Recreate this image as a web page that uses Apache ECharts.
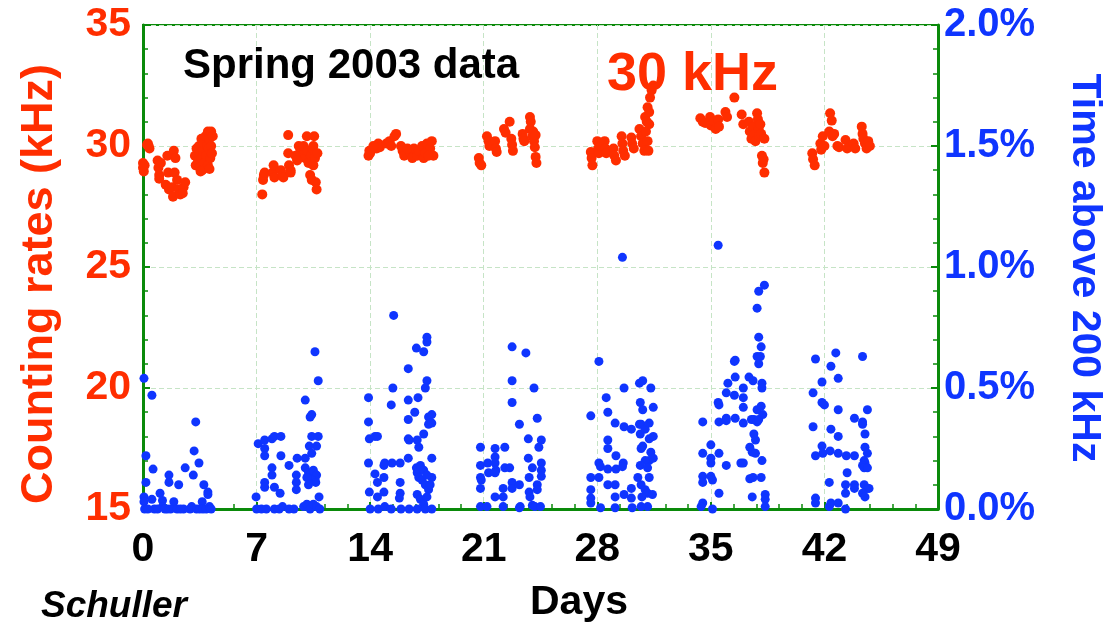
<!DOCTYPE html>
<html>
<head>
<meta charset="utf-8">
<script src="https://cdn.jsdelivr.net/npm/echarts@6/dist/echarts.min.js"></script>
<style>
html,body{margin:0;padding:0;background:#fff;}
#chart{width:1104px;height:627px;}
</style>
</head>
<body>
<div id="chart"></div>
<script>
// ---- Data: [day, counting rate kHz] ----
var rateWeek1 = [[0,29.3],[0,29.1],[0.05,28.95],[0.1,29.2],[0.3,30.1],[0.35,30.0],[0.4,29.9],[0.25,30.05],
 [0.9,29.4],[0.95,29.1],[1.0,28.8],[1.0,28.65],[1.1,29.3],[1.5,29.6],[1.55,28.9],[1.9,29.8],[2.0,29.5],[1.95,28.9],[2.1,28.6],
 [1.4,28.4],[1.6,28.2],[1.8,28.3],[1.85,27.9],[2.2,28.2],[2.3,28.0],[2.5,28.3],[2.6,28.5],[2.45,28.05],
 [3.2,29.6],[3.25,29.2],[3.3,29.9],[3.4,29.4],[3.45,30.0],[3.5,29.1],[3.5,29.7],[3.6,30.3],[3.6,29.5],[3.65,29.0],[3.7,29.8],
 [3.75,30.1],[3.8,29.3],[3.85,30.4],[3.9,29.6],[3.95,30.0],[4.0,30.6],[4.0,29.2],[4.05,29.9],[4.1,30.3],[4.15,29.5],[4.2,30.6],
 [4.2,30.0],[4.25,29.7],[4.3,30.4],[3.55,28.95],[4.1,29.05]];
var rateWeek2 = [[7.35,28.0],[7.4,28.6],[7.45,28.8],[7.5,28.9],[8.0,28.9],[8.05,29.2],[8.1,28.7],[8.5,29.0],[8.6,28.8],[8.65,28.7],
 [9.0,29.2],[9.1,29.0],[9.1,28.9],[8.95,29.7],[8.95,30.45],[9.6,30.0],[9.7,29.8],[9.75,29.6],[9.9,30.0],[10.0,29.5],[10.1,30.4],
 [10.15,29.8],[10.2,29.3],[10.3,28.8],[10.35,29.6],[10.4,28.6],[10.45,29.9],[10.5,29.2],[10.55,30.4],[10.6,29.5],[10.65,28.5],
 [10.7,28.2],[10.5,30.0],[10.75,29.7],[9.4,29.6],[9.5,29.4]];
var rateWeek3 = [[13.9,29.6],[13.95,29.8],[14.0,29.7],[14.4,29.9],[14.5,30.1],[14.6,29.95],[15.0,30.1],[15.2,30.2],[15.5,30.4],
 [15.6,30.5],[15.3,30.0],[15.9,30.0],[16.0,29.8],[16.1,29.6],[16.5,29.7],[16.6,29.5],[16.7,29.9],[16.9,29.6],[17.0,29.8],[17.2,30.0],
 [17.3,29.5],[17.4,29.7],[17.5,30.1],[17.7,29.9],[17.8,30.2],[17.9,29.6],[16.3,29.9],[14.2,30.0],[17.6,29.6]];
var rateWeek4 = [[20.7,29.5],[20.75,29.3],[20.85,29.2],[21.2,30.4],[21.3,30.2],[21.35,30.0],[21.7,30.2],[21.75,29.9],[21.8,29.75],
 [22.25,30.7],[22.35,30.55],[22.6,31.0],[22.7,30.3],[22.75,30.05],[22.8,29.8],[23.4,30.5],[23.45,30.3],[23.5,30.2],[23.85,31.2],
 [23.9,31.0],[23.85,30.7],[24.0,30.4],[24.05,30.6],[24.1,30.2],[24.15,29.95],[24.2,29.55],[24.25,29.3],[24.2,30.45]];
var rateWeek5 = [[27.6,29.75],[27.65,29.5],[27.7,29.2],[28.0,30.2],[28.05,29.9],[28.1,29.7],[28.2,30.0],[28.45,30.2],[28.5,29.9],
 [28.55,29.7],[29.0,29.9],[29.05,29.6],[29.15,29.4],[29.5,30.4],[29.55,30.1],[29.6,29.8],[29.7,29.6],[30.1,30.35],[30.15,30.1],
 [30.25,29.9],[30.6,30.7],[30.7,30.4],[30.8,30.1],[30.9,29.8],[31.0,30.6],[31.1,30.2],[31.15,29.8],[30.95,31.2],[31.05,31.0],
 [31.1,31.6],[31.2,31.4],[31.25,32.0],[31.35,32.3],[31.45,32.5],[31.2,30.9]];
var rateWeek6 = [[34.35,31.15],[34.5,31.0],[34.65,30.95],[34.95,31.2],[35.0,30.85],[35.2,31.0],[35.3,30.7],[35.45,31.1],[35.5,30.8],
 [35.9,31.4],[36.0,31.2],[36.45,32.0],[36.9,31.3],[37.0,30.9],[37.35,31.0],[37.4,30.6],[37.5,30.3],[37.6,30.8],[37.7,30.5],
 [37.75,30.2],[37.85,31.35],[37.9,31.1],[37.95,30.7],[38.0,30.4],[38.05,30.9],[38.1,30.5],[38.3,30.3],[38.15,29.6],[38.2,29.3],
 [38.3,28.9],[38.25,29.45]];
var rateWeek7 = [[41.25,29.7],[41.3,29.45],[41.4,29.2],[41.75,30.1],[41.8,29.85],[41.9,30.4],[42.0,30.0],[42.35,31.35],[42.45,31.05],
 [42.3,30.6],[42.5,30.4],[42.6,30.5],[42.8,30.0],[42.9,29.95],[43.3,30.25],[43.4,29.9],[43.6,30.0],[43.8,30.1],[43.9,29.9],
 [44.3,30.8],[44.35,30.5],[44.4,30.3],[44.5,30.1],[44.6,29.9],[44.7,30.2],[44.8,30.0]];

// ---- Data: [day, time above 200 kHz in %] ----
var timeWeek1 = [[0.06,0.54],[0.55,0.47],[0.18,0.22],[0.62,0.165],[0.18,0.11],[0.06,0.05],[0.06,0.03],[0.1,0.0],[0.55,0.04],[0.7,0.0],
 [1.05,0.065],[1.2,0.035],[1.2,0.01],[1.6,0.14],[1.6,0.11],[2.2,0.10],[2.6,0.17],[3.1,0.14],[3.15,0.24],[3.25,0.36],[3.45,0.19],
 [3.75,0.10],[4.0,0.07],[4.0,0.06],[3.65,0.03],[1.9,0.03],[0.3,0],[0.9,0],[1.5,0],[1.7,0],[2.1,0],[2.5,0],[2.9,0],[3.0,0.01],[3.3,0],
 [3.5,0],[3.7,0],[3.9,0],[4.1,0.01],[4.2,0],[2.3,0],[1.35,0]];
var timeWeek2 = [[6.97,0.05],[7.1,0.27],[7.5,0.285],[7.5,0.25],[7.5,0.22],[7.95,0.29],[8.1,0.30],[8.5,0.30],[7.95,0.17],[7.95,0.14],
 [7.5,0.11],[7.5,0.09],[8.1,0.09],[8.45,0.065],[8.5,0.22],[9.0,0.18],[9.5,0.21],[10.0,0.21],[9.45,0.14],[9.45,0.11],[9.45,0.08],
 [10.0,0.45],[10.3,0.38],[10.4,0.39],[10.6,0.65],[10.8,0.53],[10.4,0.30],[10.8,0.30],[10.7,0.26],[10.25,0.26],[10.4,0.23],
 [10.0,0.17],[10.2,0.15],[10.3,0.14],[10.5,0.16],[10.6,0.12],[10.7,0.14],[10.4,0.12],[10.1,0.13],[10.65,0.11],[10.2,0.10],[10.85,0.05],
 [7.0,0],[7.3,0],[7.6,0],[8.1,0],[8.4,0],[8.6,0.01],[9.3,0],[9.9,0.01],[10.1,0.02],[10.3,0],[10.5,0.02],[10.7,0.01],[9.0,0],[10.9,0]];
var timeWeek3 = [[13.9,0.46],[13.9,0.36],[13.95,0.29],[14.3,0.30],[14.45,0.30],[13.9,0.19],[13.95,0.07],[14.3,0.145],[14.45,0.11],
 [14.45,0.05],[14.85,0.18],[14.9,0.19],[14.85,0.13],[14.85,0.07],[15.35,0.19],[15.85,0.19],[15.45,0.80],[15.4,0.50],[15.3,0.43],
 [15.85,0.11],[15.85,0.065],[15.8,0.045],[16.35,0.58],[16.35,0.45],[16.35,0.37],[16.35,0.29],[16.4,0.285],[16.35,0.21],[16.75,0.40],
 [16.85,0.665],[16.95,0.46],[16.9,0.285],[17.0,0.255],[17.3,0.65],[17.5,0.69],[17.5,0.71],[17.5,0.53],[17.4,0.50],[17.3,0.31],
 [17.6,0.38],[17.6,0.35],[17.8,0.39],[17.8,0.355],[17.8,0.21],[17.8,0.13],[16.85,0.17],[16.9,0.15],[17.0,0.13],[17.1,0.18],
 [17.2,0.12],[17.3,0.16],[17.4,0.10],[17.5,0.14],[17.6,0.08],[16.9,0.06],[17.1,0.04],[17.3,0.02],[17.5,0.05],[17.7,0.10],
 [14.0,0],[14.5,0],[14.9,0.01],[15.3,0],[15.9,0],[16.4,0],[16.9,0],[17.4,0],[17.8,0]];
var timeWeek4 = [[20.8,0.255],[20.8,0.18],[20.8,0.13],[20.85,0.12],[20.8,0.085],[20.8,0.01],[21.2,0.01],[21.25,0.19],[21.3,0.15],
 [21.7,0.25],[21.7,0.215],[21.7,0.19],[21.75,0.16],[21.7,0.15],[22.3,0.255],[22.3,0.17],[22.6,0.17],[22.2,0.085],[22.2,0.05],
 [22.2,0.01],[21.7,0.05],[22.75,0.67],[22.75,0.53],[22.75,0.44],[22.75,0.11],[22.75,0.085],[23.2,0.35],[23.2,0.10],[23.25,0.01],
 [23.6,0.645],[24.1,0.50],[24.3,0.375],[23.75,0.29],[24.55,0.285],[24.4,0.255],[23.75,0.21],[24.0,0.17],[23.8,0.13],[24.55,0.19],
 [24.55,0.16],[24.55,0.135],[24.3,0.10],[24.3,0.08],[23.8,0.07],[23.85,0.05],[24.0,0.015],[24.15,0.01],[24.5,0.01],[23.2,0.005]];
var timeWeek5 = [[29.55,1.04],[28.1,0.61],[27.6,0.385],[27.6,0.13],[27.6,0.08],[27.6,0.045],[27.6,0.025],[28.1,0.19],[28.2,0.175],
 [28.1,0.13],[28.2,0.005],[28.55,0.46],[28.65,0.40],[28.65,0.285],[28.65,0.25],[28.65,0.165],[28.65,0.10],[29.1,0.355],[29.15,0.22],
 [29.15,0.165],[29.1,0.10],[29.1,0.05],[29.1,0.005],[29.65,0.50],[29.65,0.34],[29.6,0.19],[29.55,0.175],[29.65,0.06],[30.1,0.33],
 [30.1,0.085],[30.1,0.045],[30.15,0.005],[30.6,0.52],[30.8,0.53],[30.65,0.44],[30.8,0.41],[30.6,0.35],[30.7,0.35],[30.65,0.31],
 [30.95,0.33],[31.2,0.355],[31.45,0.42],[31.3,0.50],[31.2,0.29],[31.45,0.30],[30.8,0.26],[30.7,0.25],[31.3,0.235],[31.2,0.20],
 [31.45,0.21],[30.95,0.20],[30.65,0.18],[31.1,0.17],[31.2,0.13],[30.5,0.13],[30.7,0.10],[30.95,0.08],[31.1,0.065],[31.4,0.06],
 [30.75,0.05],[31.1,0.01],[30.7,0.01]];
var timeWeek6 = [[35.45,1.09],[34.5,0.36],[34.5,0.23],[34.5,0.135],[34.5,0.11],[34.5,0.025],[34.4,0.01],[35.1,0],[35.0,0.265],
 [35.0,0.21],[35.0,0.19],[35.0,0.135],[35.1,0.12],[35.45,0.44],[35.5,0.43],[35.5,0.36],[35.5,0.23],[35.5,0.065],[35.95,0.48],
 [35.95,0.375],[35.95,0.365],[35.95,0.18],[36.05,0.52],[36.45,0.61],[36.5,0.615],[36.5,0.545],[36.45,0.47],[36.5,0.375],[37.0,0.50],
 [37.0,0.46],[37.0,0.42],[37.0,0.355],[36.85,0.19],[37.0,0.19],[37.35,0.545],[37.6,0.53],[37.5,0.37],[37.65,0.37],[37.85,0.36],
 [37.95,0.37],[37.85,0.41],[38.1,0.425],[38.2,0.39],[37.65,0.31],[37.75,0.285],[37.4,0.255],[37.55,0.235],[37.75,0.23],[38.15,0.20],
 [37.4,0.125],[37.6,0.13],[38.1,0.13],[37.55,0.05],[38.35,0.06],[38.35,0.04],[38.35,0.01],[37.85,0.83],[37.95,0.90],[38.3,0.925],
 [37.95,0.71],[38.1,0.67],[37.85,0.63],[38.05,0.63],[37.95,0.60],[38.15,0.52],[38.15,0.50]];
var timeWeek7 = [[41.45,0.62],[41.3,0.48],[41.3,0.34],[41.45,0.22],[41.45,0.045],[41.45,0.025],[41.85,0.525],[41.85,0.44],[42.0,0.43],
 [41.85,0.26],[41.9,0.23],[42.35,0.24],[42.3,0.11],[42.3,0.01],[42.4,0.025],[42.4,0.59],[42.7,0.645],[42.85,0.54],[42.85,0.41],
 [42.4,0.33],[42.85,0.30],[42.85,0.23],[42.85,0.025],[43.3,0],[43.35,0.22],[43.4,0.15],[43.3,0.10],[43.3,0.065],[43.85,0.375],
 [43.85,0.22],[43.85,0.10],[43.85,0.085],[44.35,0.63],[44.35,0.36],[44.35,0.35],[44.5,0.31],[44.5,0.255],[44.65,0.23],[44.45,0.20],
 [44.5,0.19],[44.35,0.18],[44.45,0.17],[44.65,0.17],[44.45,0.10],[44.65,0.085],[44.75,0.085],[44.35,0.065],[44.5,0.05],[44.65,0.41]];

var xTicks = [0, 7, 14, 21, 28, 35, 42, 49];
var leftTicks = [15, 20, 25, 30, 35];
var rightTicks = [0, 0.5, 1.0, 1.5, 2.0];

var rateData = [].concat(rateWeek1, rateWeek2, rateWeek3, rateWeek4, rateWeek5, rateWeek6, rateWeek7);
var timeData = [].concat(timeWeek1, timeWeek2, timeWeek3, timeWeek4, timeWeek5, timeWeek6, timeWeek7);

var RED = '#ff2e00', BLUE = '#0f35ff', GREEN = '#0a8a0a';
var FONT = '"Liberation Sans", Arial, sans-serif';

var chart = echarts.init(document.getElementById('chart'), null, {renderer: 'canvas'});
chart.setOption({
  animation: false,
  backgroundColor: '#ffffff',
  grid: {left: 143, right: 166, top: 25, bottom: 118, show: true, borderColor: GREEN, borderWidth: 2, backgroundColor: 'transparent'},
  xAxis: {
    type: 'value', min: xTicks[0], max: xTicks[xTicks.length - 1], interval: 7,
    axisLine: {onZero: false, lineStyle: {color: GREEN, width: 3}},
    axisTick: {inside: true, length: 7, lineStyle: {color: GREEN, width: 2}},
    minorTick: {show: true, splitNumber: 5, length: 5, lineStyle: {color: GREEN, width: 1.5}},
    splitLine: {show: true, lineStyle: {color: '#c6e4c6', type: [5, 3], width: 1}},
    axisLabel: {color: '#000', fontSize: 41, fontWeight: 'bold', fontFamily: FONT, margin: 20}
  },
  yAxis: [{
    type: 'value', min: leftTicks[0], max: leftTicks[leftTicks.length - 1], interval: 5, position: 'left',
    axisLine: {show: true, onZero: false, lineStyle: {color: GREEN, width: 3}},
    axisTick: {show: true, inside: true, length: 7, lineStyle: {color: GREEN, width: 2}},
    minorTick: {show: true, splitNumber: 5, length: 5, lineStyle: {color: GREEN, width: 1.5}},
    splitLine: {show: true, lineStyle: {color: '#c6e4c6', type: [5, 3], width: 1}},
    axisLabel: {color: RED, fontSize: 41, fontWeight: 'bold', fontFamily: FONT, margin: 12}
  }, {
    type: 'value', min: rightTicks[0], max: rightTicks[rightTicks.length - 1], interval: 0.5, position: 'right',
    axisLine: {show: true, onZero: false, lineStyle: {color: GREEN, width: 3}},
    axisTick: {show: true, inside: true, length: 7, lineStyle: {color: GREEN, width: 2}},
    minorTick: {show: true, splitNumber: 5, length: 5, lineStyle: {color: GREEN, width: 1.5}},
    splitLine: {show: false},
    axisLabel: {color: BLUE, fontSize: 40, fontWeight: 'bold', fontFamily: FONT, margin: 6,
      formatter: function (v) { return v.toFixed(1) + '%'; }}
  }],
  series: [{
    name: 'Counting rate', type: 'scatter', yAxisIndex: 0, data: rateData,
    symbol: 'circle', symbolSize: 10, itemStyle: {color: RED, opacity: 1}, clip: false, z: 3
  }, {
    name: 'Time above 200 kHz', type: 'scatter', yAxisIndex: 1, data: timeData,
    symbol: 'circle', symbolSize: 9, itemStyle: {color: BLUE, opacity: 1}, clip: false, z: 3
  }],
  graphic: [
    {type: 'text', left: 183, top: 45, z: 10, style: {text: 'Spring 2003 data', fill: '#000', font: 'bold 42px ' + FONT}},
    {type: 'text', left: 607, top: 48, z: 10, style: {text: '30 kHz', fill: RED, font: 'bold 54px ' + FONT}},
    {type: 'text', left: 41, top: 588, z: 10, style: {text: 'Schuller', fill: '#000', font: 'italic bold 37px ' + FONT}},
    {type: 'text', x: 579, y: 603, z: 10, style: {text: 'Days', fill: '#000', font: 'bold 41px ' + FONT, align: 'center', verticalAlign: 'middle'}},
    {type: 'text', x: 40, y: 284, rotation: Math.PI / 2, z: 10, style: {text: 'Counting rates (kHz)', fill: RED, font: 'bold 45px ' + FONT, align: 'center', verticalAlign: 'middle'}},
    {type: 'text', x: 1084, y: 268, rotation: -Math.PI / 2, z: 10, style: {text: 'Time above 200 kHz', fill: BLUE, font: 'bold 41px ' + FONT, align: 'center', verticalAlign: 'middle'}}
  ]
});
</script>
</body>
</html>
